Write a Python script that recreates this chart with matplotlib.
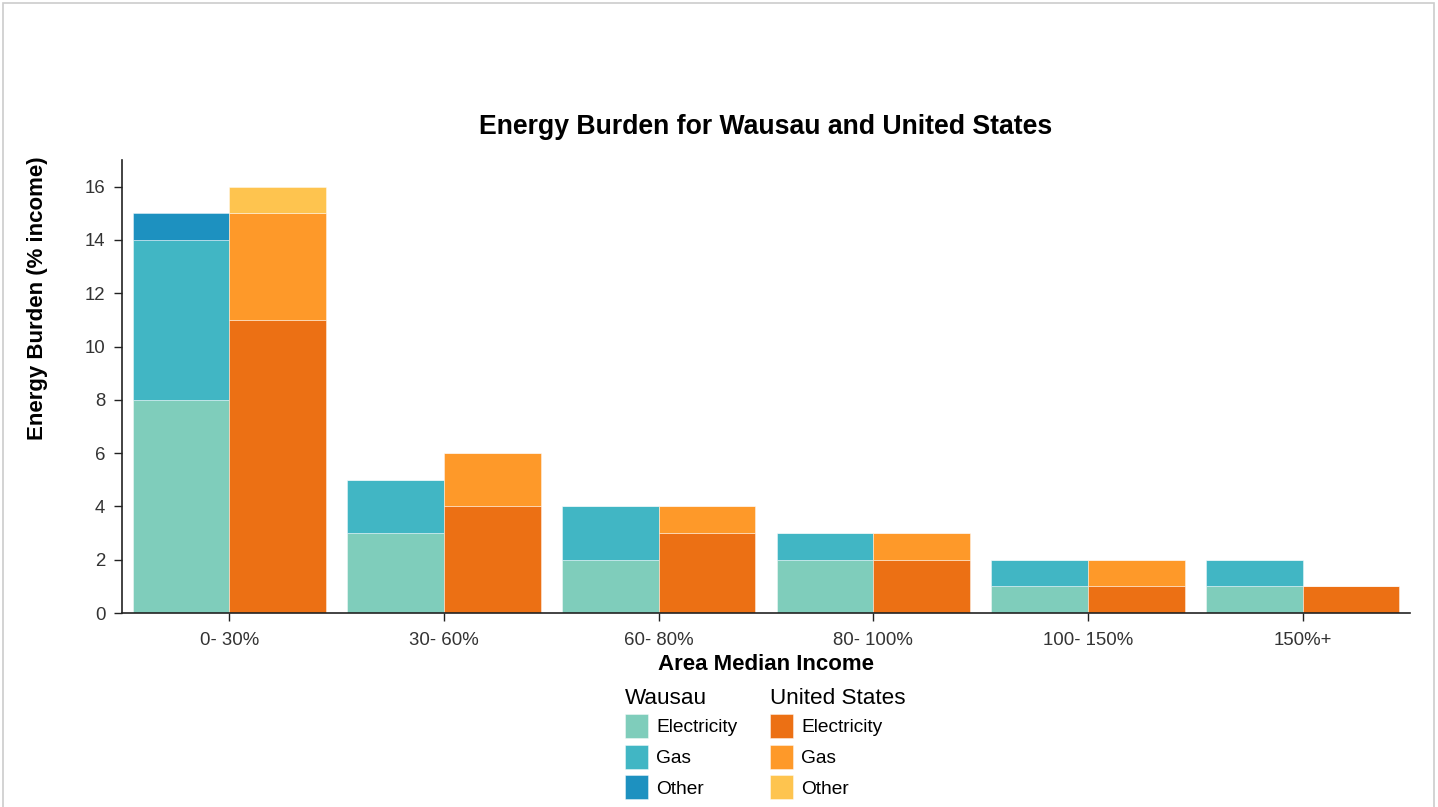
import numpy as np
import matplotlib
matplotlib.use("Agg")
import matplotlib.pyplot as plt
from matplotlib.patches import Rectangle

# -------------------------------
# Data
# -------------------------------
categories = ["0- 30%", "30- 60%", "60- 80%", "80- 100%", "100- 150%", "150%+"]
components = ["Electricity", "Gas", "Other"]

wausau_elec = [8, 3, 2, 2, 1, 1]
wausau_gas = [6, 2, 2, 1, 1, 1]
wausau_other = [1, 0, 0, 0, 0, 0]

us_elec = [11, 4, 3, 2, 1, 1]
us_gas = [4, 2, 1, 1, 1, 0]
us_other = [1, 0, 0, 0, 0, 0]

wausau_colors = ["#7fcdbb", "#41b6c4", "#1d91c0"]
us_colors = ["#ec7014", "#fe9929", "#fec44f"]

W, H = 1438, 807
plt.rcParams["font.family"] = ["Liberation Sans", "DejaVu Sans"]


def fx(px):
    return px / W


def fy(py):
    return 1 - py / H


fig = plt.figure(figsize=(W / 100, H / 100), dpi=100)
ax = fig.add_axes([fx(122), fy(613), fx(1410) - fx(122), fy(160) - fy(613)])

x = np.arange(len(categories))
bw = 0.45


def stack(ax, xpos, series, colors):
    bottom = np.zeros(len(xpos))
    for vals, col in zip(series, colors):
        vals = np.array(vals, dtype=float)
        ax.bar(xpos, vals, width=bw, bottom=bottom, color=col,
               edgecolor=(1, 1, 1, 0.6), linewidth=0.5, align="center")
        bottom += vals


stack(ax, x - bw / 2, [wausau_elec, wausau_gas, wausau_other], wausau_colors)
stack(ax, x + bw / 2, [us_elec, us_gas, us_other], us_colors)

ax.set_xlim(-0.5, len(categories) - 0.5)
ax.set_ylim(0, 17)
ax.set_xticks(x)
ax.set_xticklabels(categories)
ax.set_yticks(np.arange(0, 17, 2))
ax.tick_params(axis="both", labelsize=13.4, colors="#333333", length=6, width=1)
ax.tick_params(axis="both", color="#222222")
ax.tick_params(axis="x", pad=8)
ax.tick_params(axis="y", pad=6)
for s in ["top", "right"]:
    ax.spines[s].set_visible(False)
for s in ["left", "bottom"]:
    ax.spines[s].set_color("#222222")
    ax.spines[s].set_linewidth(1.2)

fig.text(fx(766), fy(127), "Energy Burden for Wausau and United States",
         ha="center", va="center", fontsize=19.2, fontweight="bold")
fig.text(fx(766), fy(665), "Area Median Income", ha="center", va="center",
         fontsize=16, fontweight="bold")
fig.text(fx(38), fy(298), "Energy Burden (% income)", ha="center", va="center",
         rotation=90, fontsize=16, fontweight="bold")

# -------------------------------
# Legend (drawn by hand)
# -------------------------------
for x0, title, cols in [(625, "Wausau", wausau_colors), (770, "United States", us_colors)]:
    fig.text(fx(x0), fy(699), title, ha="left", va="center", fontsize=16.2)
    for i, (lab, col) in enumerate(zip(components, cols)):
        yc = 726 + i * 30.5
        fig.patches.append(Rectangle((fx(x0), fy(yc + 12)), fx(23), 24 / H,
                                     transform=fig.transFigure, facecolor=col,
                                     edgecolor=(1, 1, 1, 0.6), linewidth=0.5))
        fig.text(fx(x0 + 31), fy(yc + 2), lab, ha="left", va="center", fontsize=13.8)

# light frame around the chart
fig.patches.append(Rectangle((fx(3), fy(830)), fx(1431), 827 / H,
                             transform=fig.transFigure, facecolor="none",
                             edgecolor="#cccccc", linewidth=1.2))

fig.savefig("out.png", dpi=100)
